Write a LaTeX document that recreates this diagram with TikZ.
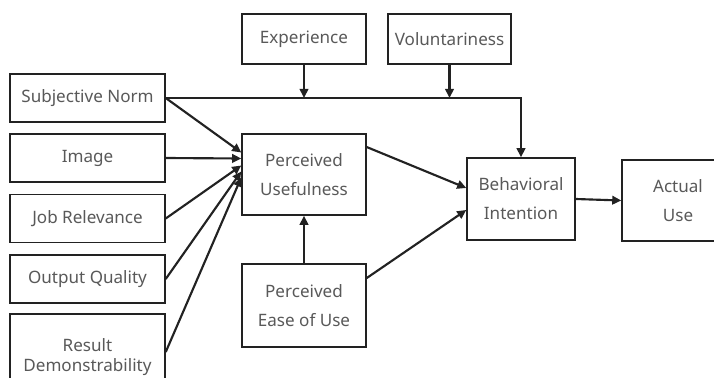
\documentclass[tikz,border=0pt]{standalone}
\usepackage{fontspec}
\setmainfont{Noto Sans}
\usepackage{xcolor}
\usetikzlibrary{arrows.meta,positioning}
\definecolor{ink}{HTML}{222222}
\definecolor{label}{HTML}{595959}
\tikzset{
  box/.style={draw=ink, fill=white, line width=1.1pt, align=center, inner sep=0pt,
              font=\fontsize{12.8}{21.75}\selectfont, text=label},
  arrow/.style={-{Triangle[length=6.8pt,width=6.4pt]}, line width=1.6pt, draw=ink}
}

\begin{document}
\begin{tikzpicture}[x=0.75pt,y=-0.75pt]
        \clip (0,0) rectangle (714,378);

        % external variables on the left
        \foreach \nm/\y/\lab in {sn/98/Subjective Norm,img/158/Image,jr/218.5/Job Relevance,oq/279/Output Quality}
          {\node[box,minimum width=116.25pt,minimum height=36pt] (\nm) at (87.5,\y) {\lab};}
        \node[box,minimum width=116.25pt,minimum height=64.5pt,font=\fontsize{12.8}{15}\selectfont] (rd) at (87.5,357) {Result\\Demonstrability};

        % moderators
        \node[box,minimum width=93pt,minimum height=37.5pt] (exp) at (304,39) {Experience};
        \node[box,minimum width=92.25pt,minimum height=37.5pt] (vol) at (449.5,39) {Voluntariness};

        % core constructs
        \node[box,minimum width=93pt,minimum height=60.75pt] (pu) at (304,174.5) {Perceived\\Usefulness};
        \node[box,minimum width=93pt,minimum height=62.25pt] (peou) at (304,305.5) {Perceived\\Ease of Use};
        \node[box,minimum width=81pt,minimum height=61.5pt] (bi) at (521,199) {Behavioral\\Intention};
        \node[box,minimum width=84pt,minimum height=60.75pt] (au) at (678,200.5) {Actual\\Use};

        % determinants of usefulness
        \draw[arrow] (sn.east) -- ([yshift=16.5pt]pu.west);
        \foreach \src/\dy in {img/12,jr/6.75,oq/2.25}
          {\draw[arrow] (\src.east) -- ([yshift=\dy pt]pu.west);}
        \draw[arrow] ([yshift=3.75pt]rd.east) -- ([yshift=-2.25pt]pu.west);

        % subjective norm straight to intention, moderated
        \draw[arrow] (sn.east) -| (bi.north);
        \draw[arrow] (exp.south) -- (exp.south |- sn.east);
        \draw[arrow] (vol.south) -- (vol.south |- sn.east);

        % TAM core
        \draw[arrow] (peou.north) -- (pu.south);
        \draw[arrow] ([yshift=20.6pt]pu.east) -- ([yshift=8.25pt]bi.west);
        \draw[arrow] ([yshift=20.6pt]peou.east) -- ([yshift=-8.25pt]bi.west);
        \draw[arrow] (bi.east) -- (au.west);
\end{tikzpicture}
\end{document}
